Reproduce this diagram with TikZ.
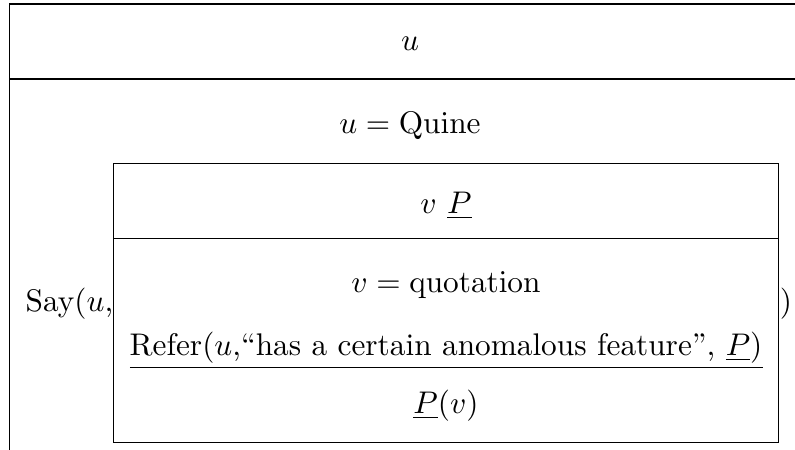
\documentclass[tikz,border=0pt]{standalone}
\begin{document}
\begin{tikzpicture}[x=0.3195pt,y=-0.3195pt,
  txt/.style={inner sep=0pt, outer sep=0pt, anchor=base},
  frame/.style={draw=black, line width=0.4pt}]
\useasboundingbox (0,0) rectangle (795,450);
% outer box (cut by the picture edge)
\coordinate (oTR) at (795,4);
\coordinate (oTL) at (9.5,4);
\coordinate (oBL) at (9.5,450);
\coordinate (oDL) at (9.5,79);
\coordinate (oDR) at (795,79);
\draw[frame] (oTR) -- (oTL) -- (oBL);
\draw[frame] (oDL) -- (oDR);
% inner box
\coordinate (iTL) at (113.7,163.7);
\coordinate (iBR) at (778.7,442.3);
\coordinate (iDL) at (113.7,238.7);
\coordinate (iDR) at (778.7,238.7);
\draw[frame] (iTL) rectangle (iBR);
\draw[frame] (iDL) -- (iDR);
% texts
\node[txt] (u) at (410,50) {$u$};
\node[txt] (quine) at (410,133) {$u = \mathrm{Quine}$};
\node[txt] (vP) at (446,213) {$v\ \underline{P}$};
\node[txt] (vq) at (446,293) {$v = \mathrm{quotation}$};
\node[txt] (refer) at (446,355) {Refer($u$,“has a certain anomalous feature”, $\underline{P}$)};
\coordinate (rL) at (130,367.7);
\coordinate (rR) at (763,367.7);
\draw[frame] (rL) -- (rR);
\node[txt] (Pv) at (446,413) {$\underline{P}(v)$};
\node[txt, anchor=base east] (say) at (113.2,311) {Say($u$,};
\node[txt, anchor=base west] (close) at (780,311) {)};
\end{tikzpicture}
\end{document}
